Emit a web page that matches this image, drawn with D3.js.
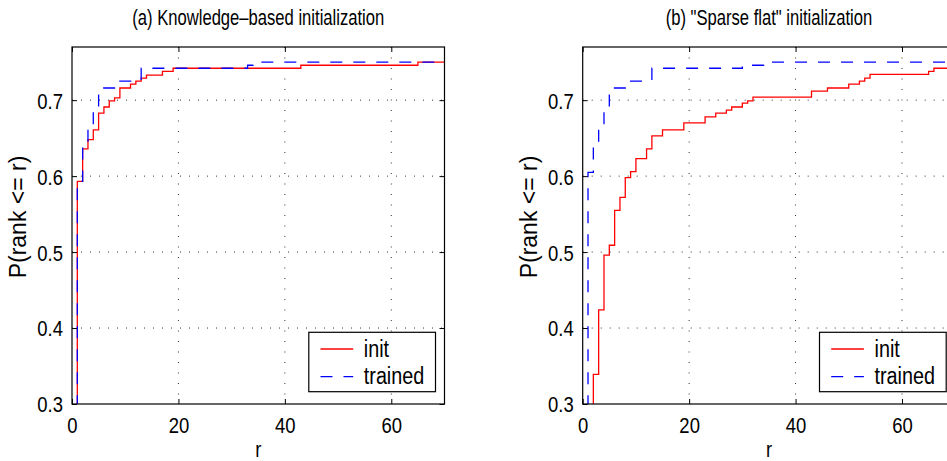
<!DOCTYPE html>
<html><head><meta charset="utf-8">
<script src="https://cdn.jsdelivr.net/npm/d3@7"></script>
<style>
html,body{margin:0;padding:0;background:#fff;}
svg text{font-family:"Liberation Sans",Arial,Helvetica,sans-serif;fill:#000;}
</style></head>
<body>
<script>
// ---------- data ----------
const panelTitles = ['(a) Knowledge\u2013based initialization', '(b) "Sparse flat" initialization'];
const seriesNames = ['init', 'trained'];
const xTicks = [0, 20, 40, 60];
const yTicks = [0.3, 0.4, 0.5, 0.6, 0.7];
const yTickLabels = ['0.3', '0.4', '0.5', '0.6', '0.7'];
const xTickLabels = ['0', '20', '40', '60'];
const xDomain = [0, 70];
const yDomain = [0.3, 0.77];

// step points: rank where value changes, and P(rank <= r)
const aInitRanks  = [0, 1, 2, 3, 4, 5, 6, 7, 8, 9, 11, 12, 13, 14, 17, 19, 43, 65, 70];
const aInitValues = [0, 0.593, 0.636, 0.648, 0.661, 0.683, 0.691, 0.699, 0.703, 0.716, 0.721, 0.725, 0.729, 0.733, 0.738, 0.742, 0.746, 0.750, 0.750];
const aTrainedRanks  = [0, 1, 2, 3, 4, 5, 9, 13, 33, 34, 70];
const aTrainedValues = [0, 0.593, 0.640, 0.665, 0.690, 0.716, 0.725, 0.742, 0.746, 0.750, 0.750];

const bInitRanks  = [0, 2, 3, 4, 5, 6, 7, 8, 9, 10, 12, 13, 15, 19, 23, 25, 27, 28, 30, 31, 32, 43, 46, 50, 52, 53, 54, 65, 66, 70];
const bInitValues = [0, 0.339, 0.424, 0.496, 0.509, 0.555, 0.572, 0.598, 0.606, 0.623, 0.636, 0.653, 0.661, 0.670, 0.678, 0.683, 0.687, 0.691, 0.696, 0.699, 0.704, 0.712, 0.716, 0.721, 0.725, 0.729, 0.734, 0.738, 0.742, 0.742];
const bTrainedRanks  = [0, 1, 2, 3, 4, 5, 9, 13, 30, 34, 70];
const bTrainedValues = [0, 0.605, 0.641, 0.669, 0.691, 0.716, 0.725, 0.742, 0.746, 0.750, 0.750];

const panelData = [
  [d3.zip(aInitRanks, aInitValues), d3.zip(aTrainedRanks, aTrainedValues)],
  [d3.zip(bInitRanks, bInitValues), d3.zip(bTrainedRanks, bTrainedValues)]
];

// ---------- layout ----------
const W = 947, H = 461;
const panelLeft = [72, 582.7];
const plotW = 372.5, plotTop = 47, plotBottom = 404;
const colors = ['#ff0000', '#0000ff'];
const dashes = [null, '12,11'];
const narrow = 0.84;

const svg = d3.select('body').append('svg').attr('width', W).attr('height', H)
  .style('display', 'block');

panelData.forEach((series, pi) => {
  const x0 = panelLeft[pi], x1 = x0 + plotW;
  const x = d3.scaleLinear().domain(xDomain).range([x0, x1]);
  const y = d3.scaleLinear().domain(yDomain).range([plotBottom, plotTop]);
  const g = svg.append('g');

  const clipId = 'clip' + pi;
  svg.append('clipPath').attr('id', clipId).append('rect')
    .attr('x', x0).attr('y', plotTop).attr('width', plotW).attr('height', plotBottom - plotTop);

  // grid
  g.append('g').selectAll('line').data(xTicks.filter(v => v > xDomain[0])).join('line')
    .attr('x1', d => x(d)).attr('x2', d => x(d)).attr('y1', plotTop).attr('y2', plotBottom)
    .attr('stroke', '#333').attr('stroke-width', 1).attr('stroke-dasharray', '1,9.5');
  g.append('g').selectAll('line').data(yTicks.filter(v => v > yDomain[0])).join('line')
    .attr('x1', x0).attr('x2', x1).attr('y1', d => y(d)).attr('y2', d => y(d))
    .attr('stroke', '#333').attr('stroke-width', 1).attr('stroke-dasharray', '1,8');

  // curves
  const line = d3.line().x(d => x(d[0])).y(d => y(d[1])).curve(d3.curveStepAfter);
  const cg = g.append('g').attr('clip-path', `url(#${clipId})`);
  series.forEach((s, si) => {
    cg.append('path').datum(s).attr('d', line).attr('fill', 'none')
      .attr('stroke', colors[si]).attr('stroke-width', 1.3)
      .attr('stroke-dasharray', dashes[si]);
  });

  // axes
  const fs = '22px';
  const xb = g.append('g').attr('transform', `translate(0,${plotBottom})`)
    .call(d3.axisBottom(x).tickValues(xTicks).tickFormat((d, i) => xTickLabels[i]).tickSize(-5).tickPadding(13));
  const xt = g.append('g').attr('transform', `translate(0,${plotTop})`)
    .call(d3.axisTop(x).tickValues(xTicks).tickFormat('').tickSize(-5));
  const yl = g.append('g').attr('transform', `translate(${x0},0)`)
    .call(d3.axisLeft(y).tickValues(yTicks).tickFormat((d, i) => yTickLabels[i]).tickSize(-5).tickPadding(9 / narrow));
  const yr = g.append('g').attr('transform', `translate(${x1},0)`)
    .call(d3.axisRight(y).tickValues(yTicks).tickFormat('').tickSize(-5));
  [xb, xt, yl, yr].forEach(a => {
    a.select('.domain').remove();
    a.selectAll('line').attr('stroke', '#000');
    a.selectAll('text').style('font-size', fs).attr('font-family', null)
      .attr('transform', `scale(${narrow},1)`);
  });
  yl.selectAll('text').attr('dy', '0.36em');

  // frame
  g.append('rect').attr('x', x0).attr('y', plotTop).attr('width', plotW).attr('height', plotBottom - plotTop)
    .attr('fill', 'none').attr('stroke', '#000').attr('stroke-width', 1.2);

  // titles and labels
  g.append('text').attr('transform', `translate(${(x0 + x1) / 2},25) scale(0.755,1)`)
    .attr('text-anchor', 'middle').style('font-size', '22px').text(panelTitles[pi]);
  g.append('text').attr('transform', `translate(${(x0 + x1) / 2},457) scale(${narrow},1)`)
    .attr('text-anchor', 'middle').style('font-size', '22px').text('r');
  g.append('text').attr('transform', `translate(${x0 - 46},217) rotate(-90)`).attr('text-anchor', 'middle')
    .style('font-size', '23px').text('P(rank <= r)');

  // legend
  const lx = x1 - 135.7, ly = 332.3;
  const lg = g.append('g');
  lg.append('rect').attr('x', lx).attr('y', ly).attr('width', 126.7).attr('height', 59.4)
    .attr('fill', '#fff').attr('stroke', '#000').attr('stroke-width', 1.2);
  seriesNames.forEach((nm, si) => {
    const yy = ly + 16.7 + si * 27.7;
    lg.append('line').attr('x1', lx + 11.7).attr('x2', lx + 44.4).attr('y1', yy).attr('y2', yy)
      .attr('stroke', colors[si]).attr('stroke-width', 1.3).attr('stroke-dasharray', dashes[si]);
    lg.append('text').attr('transform', `translate(${lx + 55},${yy + 7.7}) scale(0.86,1)`)
      .style('font-size', '23px').text(nm);
  });
});
</script>
</body></html>
